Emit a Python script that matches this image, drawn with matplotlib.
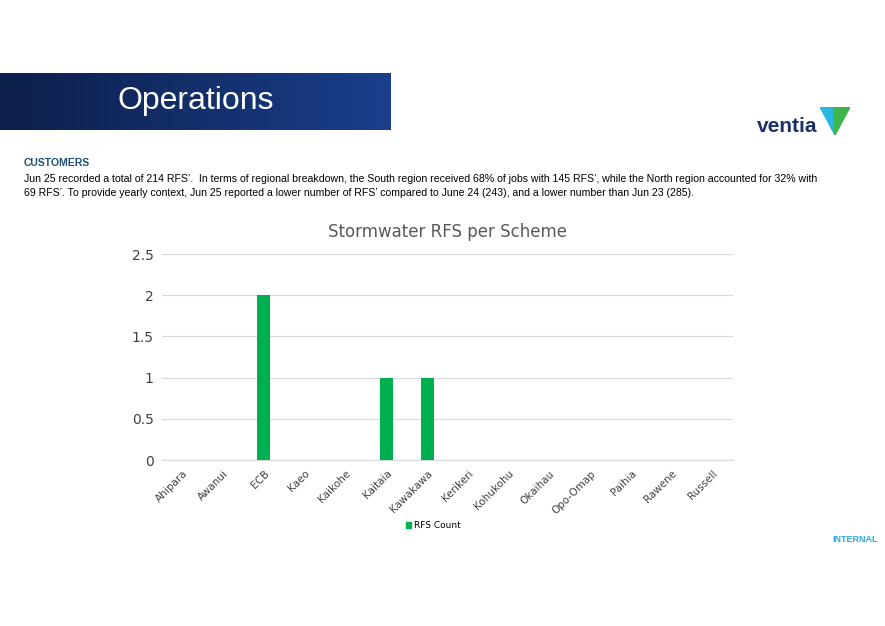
import numpy as np
import matplotlib.pyplot as plt
from matplotlib.patches import Polygon, Patch
from matplotlib.colors import LinearSegmentedColormap

schemes = ["Ahipara", "Awanui", "ECB", "Kaeo", "Kaikohe", "Kaitaia", "Kawakawa",
           "Kerikeri", "Kohukohu", "Okaihau", "Opo-Omap", "Paihia", "Rawene", "Russell"]
rfs_count = [0, 0, 2, 0, 0, 1, 1, 0, 0, 0, 0, 0, 0, 0]

body = ("Jun 25 recorded a total of 214 RFS\u2019.  In terms of regional breakdown, the South region received 68% of jobs with 145 RFS\u2019, while the North region accounted for 32% with\n"
        "69 RFS\u2019. To provide yearly context, Jun 25 reported a lower number of RFS\u2019 compared to June 24 (243), and a lower number than Jun 23 (285).")

W, H = 885, 626
fig = plt.figure(figsize=(W / 100, H / 100), dpi=100)

# header banner with gradient
ban = fig.add_axes([0, 1 - 130 / H, 391 / W, 57 / H])
grad = np.linspace(0, 1, 256).reshape(1, -1)
cmap = LinearSegmentedColormap.from_list("b", ["#0d1f4a", "#1a3f8c"])
ban.imshow(grad, aspect="auto", cmap=cmap, extent=[0, 1, 0, 1])
ban.set_axis_off()
ban.text(0.5, 0.5, "Operations", color="white", fontsize=23, ha="center", va="center",
         family="Liberation Sans")

# logo
fig.text(757 / W, 1 - 127 / H, "ventia", color="#1b2f6b", fontsize=15, fontweight="bold",
         va="center", family="Liberation Sans")
logo = fig.add_axes([820 / W, 1 - 135 / H, 30 / W, 28 / H])
logo.add_patch(Polygon([(0, 1), (0.5, 0), (0.55, 1)], color="#29b6e0"))
logo.add_patch(Polygon([(0.45, 1), (0.5, 0), (1, 1)], color="#3cb54a"))
logo.set_xlim(0, 1); logo.set_ylim(0, 1); logo.set_axis_off()

fig.text(24 / W, 1 - 163 / H, "CUSTOMERS", color="#1b4f7a", fontsize=7.5, fontweight="bold",
         va="center", family="Liberation Sans")
fig.text(24 / W, 1 - 186 / H, body, fontsize=7.6, va="center", linespacing=1.45,
         family="Liberation Sans")
fig.text(878 / W, 1 - 539 / H, "INTERNAL", color="#29a8e0", fontsize=6.5, fontweight="bold",
         ha="right", va="center", family="Liberation Sans")

ax = fig.add_axes([162 / W, 1 - 460 / H, 571 / W, 206 / H])
x = np.arange(len(schemes))
ax.bar(x, rfs_count, width=0.32, color="#00b050", zorder=3)
ax.set_xlim(-0.5, len(schemes) - 0.5)
ax.set_ylim(0, 2.5)
ax.set_yticks([0, 0.5, 1, 1.5, 2, 2.5])
ax.set_yticklabels(["0", "0.5", "1", "1.5", "2", "2.5"], fontsize=10, color="#404040")
ax.set_xticks(x)
ax.set_xticklabels(schemes, rotation=45, ha="right", rotation_mode="anchor", fontsize=7.5,
                   color="#404040")
ax.grid(axis="y", color="#d9d9d9", lw=0.8, zorder=0)
for s in ax.spines.values():
    s.set_visible(False)
ax.spines["bottom"].set_visible(True)
ax.spines["bottom"].set_color("#d9d9d9")
ax.tick_params(length=0, pad=6)
ax.set_title("Stormwater RFS per Scheme", fontsize=12, color="#595959", pad=12)
fig.legend(handles=[Patch(color="#00b050", label="RFS Count")], loc="center",
           bbox_to_anchor=(433 / W, 1 - 526 / H), frameon=False, fontsize=6.5,
           handlelength=0.6, handleheight=0.6, handletextpad=0.3)

fig.savefig("out.png", dpi=100)
